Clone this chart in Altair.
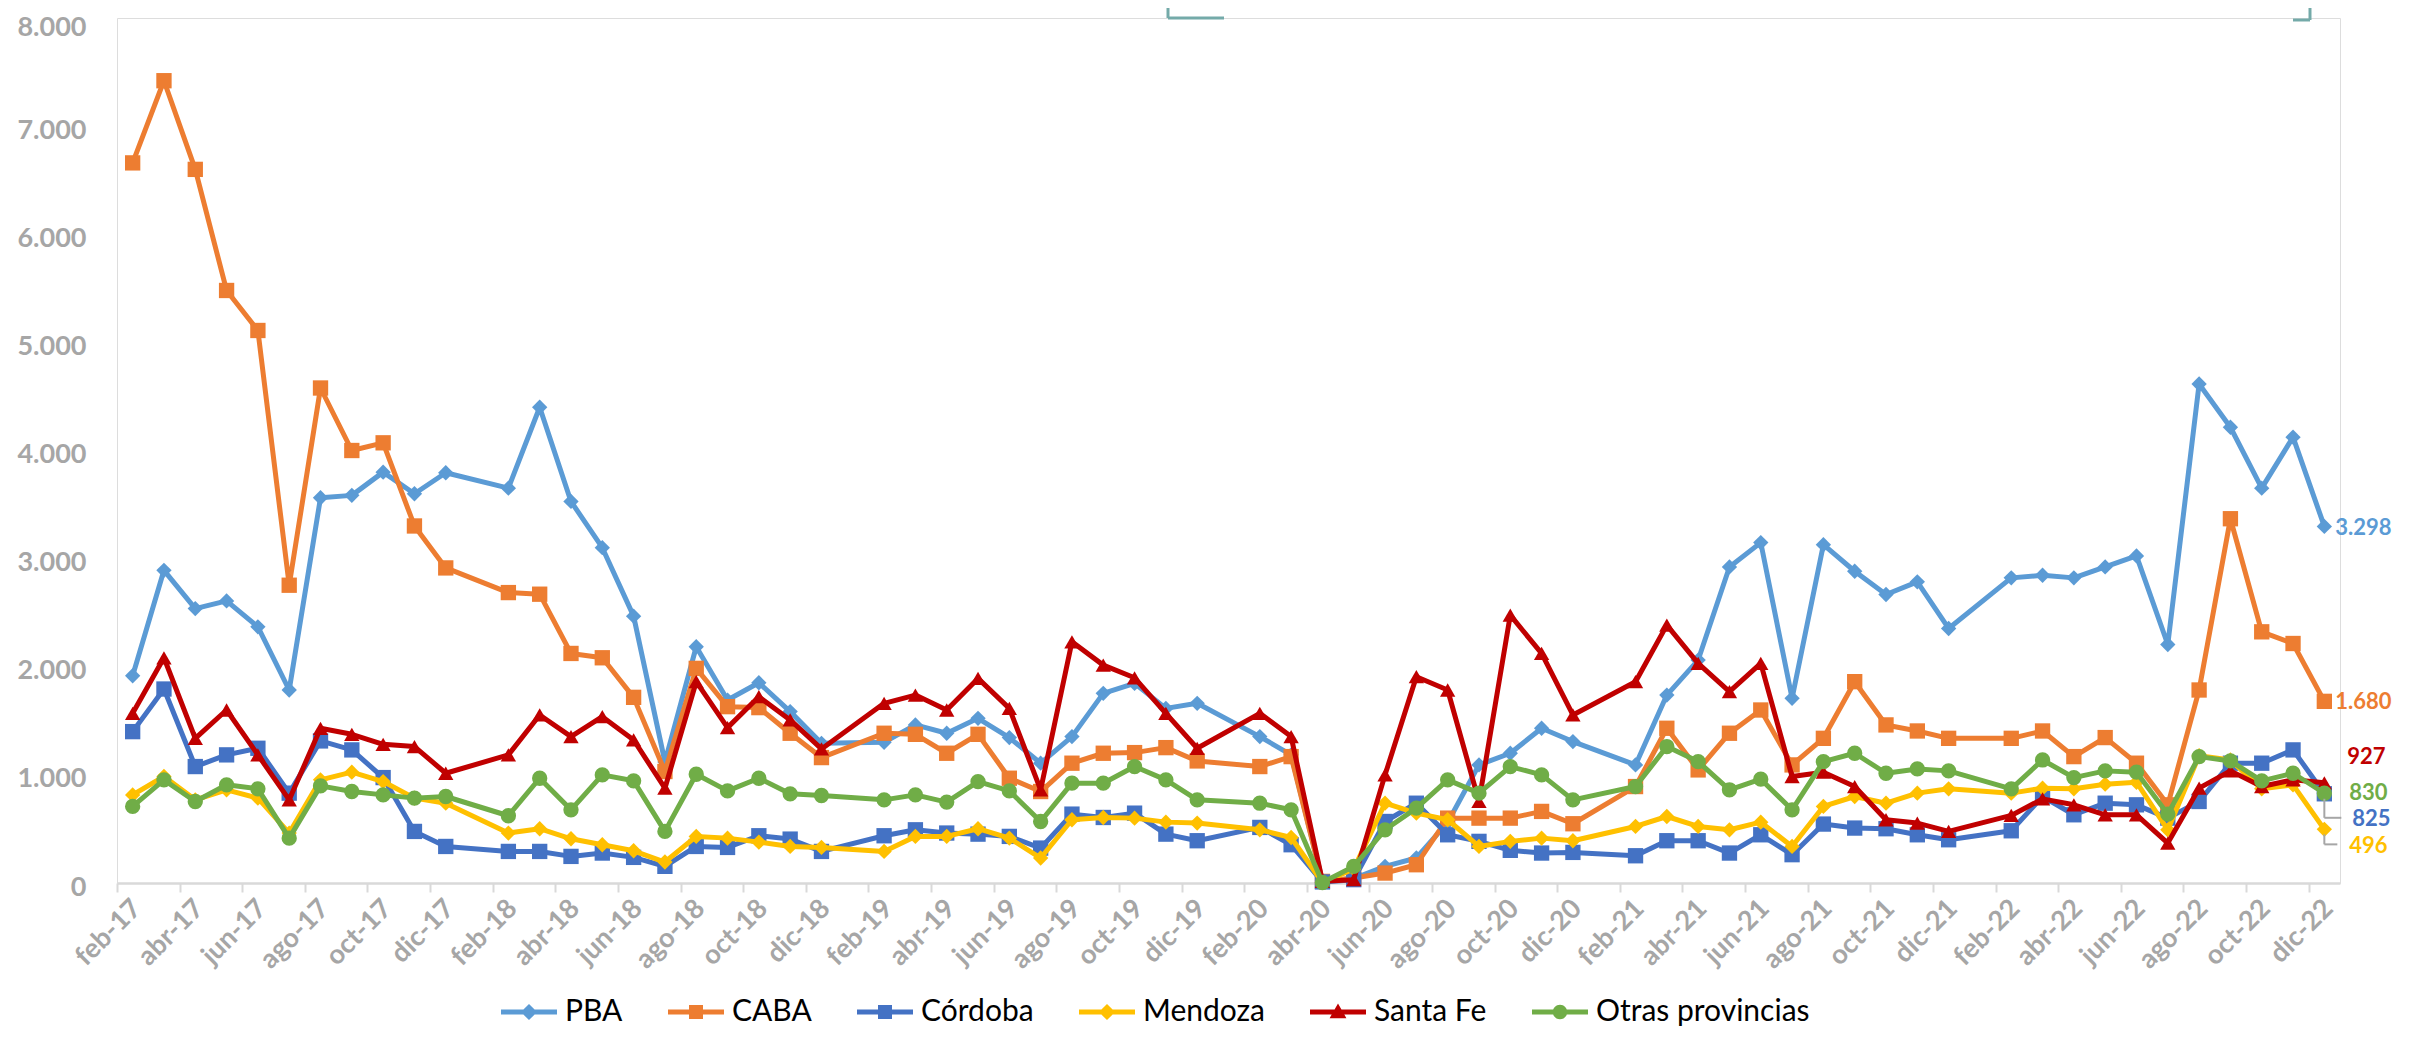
import altair as alt
import pandas as pd

# ---------------- data ----------------
series = ["PBA", "CABA", "Córdoba", "Mendoza", "Santa Fe", "Otras provincias"]
colors = ["#5B9BD5", "#ED7D31", "#4472C4", "#FFC000", "#C00000", "#70AD47"]
markers = ["diamond", "square", "square", "diamond", "triangle-up", "circle"]

meses_all = ["ene", "feb", "mar", "abr", "may", "jun", "jul", "ago", "sep", "oct", "nov", "dic"]
years = [17, 18, 19, 20, 21, 22]
# períodos con dato (enero no figura en la serie)
periods = [f"{m}-{y}" for y in years for m in meses_all[1:]]

tick_labels = [
    "feb-17", "abr-17", "jun-17", "ago-17", "oct-17", "dic-17",
    "feb-18", "abr-18", "jun-18", "ago-18", "oct-18", "dic-18",
    "feb-19", "abr-19", "jun-19", "ago-19", "oct-19", "dic-19",
    "feb-20", "abr-20", "jun-20", "ago-20", "oct-20", "dic-20",
    "feb-21", "abr-21", "jun-21", "ago-21", "oct-21", "dic-21",
    "feb-22", "abr-22", "jun-22", "ago-22", "oct-22", "dic-22",
]
y_ticks = [0, 1000, 2000, 3000, 4000, 5000, 6000, 7000, 8000]

pba = [1917, 2892, 2538, 2609, 2369, 1785, 3563, 3585, 3800, 3600, 3794,
       3652, 4400, 3529, 3101, 2468, 1120, 2185, 1692, 1852, 1585, 1292,
       1302, 1462, 1385, 1523, 1345, 1108, 1354, 1754, 1846, 1615, 1662,
       1354, 1185, 20, 40, 154, 231, 560, 1092, 1200, 1431, 1308,
       1092, 1738, 2062, 2923, 3148, 1708, 3129, 2883, 2668, 2785, 2354,
       2822, 2846, 2822, 2923, 3025, 2206, 4615, 4215, 3652, 4123, 3298]
caba = [6660, 7420, 6600, 5480, 5110, 2754, 4578, 4000, 4071, 3302, 2914,
        2686, 2671, 2123, 2083, 1717, 1031, 1985, 1631, 1622, 1385, 1160,
        1385, 1375, 1200, 1375, 969, 846, 1108, 1200, 1206, 1252, 1129,
        1077, 1169, 15, 46, 92, 169, 600, 600, 600, 662, 548,
        892, 1431, 1046, 1385, 1600, 1092, 1338, 1862, 1462, 1406, 1338,
        1338, 1406, 1169, 1345, 1108, 723, 1785, 3369, 2323, 2215, 1680]
cordoba = [1400, 1794, 1077, 1185, 1246, 831, 1314, 1231, 975, 477, 338,
           292, 292, 246, 277, 237, 154, 338, 329, 437, 406, 292,
           437, 492, 462, 452, 431, 323, 637, 606, 646, 452, 391,
           514, 354, 10, 31, 569, 738, 446, 385, 302, 277, 283,
           252, 391, 391, 277, 446, 262, 545, 508, 502, 446, 400,
           483, 800, 631, 738, 723, 600, 754, 1108, 1108, 1231, 825]
mendoza = [815, 985, 769, 862, 785, 462, 954, 1025, 938, 785, 738,
           462, 502, 409, 354, 298, 194, 431, 415, 378, 338, 329,
           292, 431, 431, 502, 415, 231, 585, 606, 600, 563, 554,
           492, 421, 5, 130, 738, 646, 585, 338, 385, 415, 391,
           523, 615, 523, 492, 563, 338, 708, 800, 738, 831, 871,
           831, 877, 871, 914, 932, 492, 1178, 1138, 871, 908, 496]
santa_fe = [1569, 2083, 1338, 1600, 1185, 769, 1431, 1375, 1283, 1262, 1015,
            1185, 1554, 1354, 1538, 1323, 877, 1862, 1437, 1723, 1508, 1240,
            1662, 1738, 1600, 1892, 1615, 862, 2231, 2015, 1898, 1569, 1246,
            1569, 1354, 15, 31, 1000, 1908, 1785, 754, 2477, 2123, 1554,
            1862, 2385, 2031, 1769, 2031, 985, 1025, 892, 585, 554, 477,
            625, 778, 723, 631, 631, 369, 877, 1037, 892, 954, 927]
otras = [708, 954, 754, 908, 871, 415, 898, 846, 815, 785, 800,
         622, 969, 677, 1000, 945, 477, 1006, 852, 969, 825, 809,
         769, 815, 748, 938, 852, 569, 923, 923, 1077, 954, 769,
         738, 677, 5, 154, 492, 692, 954, 831, 1077, 1000, 769,
         892, 1262, 1123, 862, 960, 677, 1123, 1200, 1015, 1055, 1037,
         871, 1138, 975, 1037, 1025, 637, 1169, 1129, 945, 1015, 830]
values = [pba, caba, cordoba, mendoza, santa_fe, otras]


def month_index(p):
    m, y = p.split("-")
    return (int(y) - 17) * 12 + meses_all.index(m) - 1


rows = []
for s, vals in zip(series, values):
    for p, v in zip(periods, vals):
        rows.append({"series": s, "period": p, "x": month_index(p) + 0.5, "value": v})
df = pd.DataFrame(rows)

ends = pd.DataFrame({
    "series": series,
    "x": [month_index(periods[-1]) + 0.5] * len(series),
    "value": [v[-1] for v in values],
    "label": [f"{v[-1]:,}".replace(",", ".") for v in values],
})

# ---------------- layout ----------------
W, H = 2223, 865
N_MONTHS = 71
HALF = W / N_MONTHS / 2
GRAY = "#A6A6A6"

label_arr = "[" + ",".join(f"'{t}'" for t in tick_labels) + "]"

x_axis = alt.Axis(
    values=list(range(0, 71, 2)), labelExpr=f"{label_arr}[datum.value / 2]",
    labelAngle=-45, labelAlign="right", labelBaseline="middle",
    labelOffset=HALF + 4, labelPadding=12,
    labelOverlap=False, labelFlush=False, labelBound=False,
    labelFont="Lato", labelFontSize=27, labelFontWeight="bold", labelColor=GRAY,
    tickSize=9, tickColor="#D9D9D9", tickWidth=2,
    domainColor="#D9D9D9", domainWidth=2.5, grid=False, title=None,
)
y_axis = alt.Axis(
    values=y_ticks, labelExpr="replace(format(datum.value, ','), ',', '.')",
    ticks=False, domain=False, grid=False, labelPadding=31,
    labelOffset={"condition": {"test": "datum.value === 8000", "value": 9}, "value": 4},
    labelFont="Lato", labelFontSize=27, labelFontWeight="bold", labelColor=GRAY,
    title=None,
)
X = alt.X("x:Q", scale=alt.Scale(domain=[0, N_MONTHS], nice=False, zero=False), axis=x_axis)
Y = alt.Y("value:Q", scale=alt.Scale(domain=[0, 8000], nice=False), axis=y_axis)

layers = []
for s, c, m in zip(series, colors, markers):
    sel = alt.datum.series == s
    layers.append(
        alt.Chart().transform_filter(sel)
        .mark_line(color=c, strokeWidth=5, strokeJoin="round", strokeCap="round")
        .encode(x=X, y=Y)
    )
    layers.append(
        alt.Chart().transform_filter(sel)
        .mark_point(shape=m, filled=True, size=235, color=c, opacity=1)
        .encode(x=X, y=Y)
    )

# legend: line + marker symbols
bar = "M-1,-0.09H1V0.09H-1Z"
legend_paths = [
    bar + "M0,-0.29L0.29,0L0,0.29L-0.29,0Z",
    bar + "M-0.25,-0.25H0.25V0.25H-0.25Z",
    bar + "M-0.25,-0.25H0.25V0.25H-0.25Z",
    bar + "M0,-0.29L0.29,0L0,0.29L-0.29,0Z",
    bar + "M0,-0.3L0.3,0.22H-0.3Z",
    bar + "M0.26,0A0.26,0.26,0,1,1,-0.26,0A0.26,0.26,0,1,1,0.26,0Z",
]
leg = alt.Legend(
    title=None, orient="none", legendX=384, legendY=966, direction="horizontal",
    columns=6, symbolSize=3136, symbolStrokeWidth=0, symbolOpacity=1,
    labelFont="Lato", labelFontSize=30, labelColor="#000000", labelOffset=8,
    columnPadding=45, padding=0, labelLimit=0,
)
layers.append(
    alt.Chart().mark_point(filled=True, opacity=0).encode(
        color=alt.Color("series:N", scale=alt.Scale(domain=series, range=colors), legend=leg),
        shape=alt.Shape("series:N", scale=alt.Scale(domain=series, range=legend_paths), legend=leg),
    )
)

# end labels
offsets = {
    "PBA": (11, 2), "CABA": (11, 1), "Córdoba": (28, 25),
    "Mendoza": (25, 17), "Santa Fe": (23, -26), "Otras provincias": (25, 0),
}
for s, c in zip(series, colors):
    dx, dy = offsets[s]
    layers.append(
        alt.Chart(ends).transform_filter(alt.datum.series == s)
        .mark_text(align="left", baseline="middle", dx=dx, dy=dy, font="Lato",
                   fontSize=22, fontWeight="bold", color=c)
        .encode(x=X, y=Y, text="label:N")
    )

# leader lines for Córdoba and Mendoza labels
for s, y_end, x_len in [("Córdoba", 24, 17), ("Mendoza", 15, 13)]:
    sub = alt.Chart(ends).transform_filter(alt.datum.series == s)
    layers.append(
        sub.mark_rule(color=GRAY, strokeWidth=2, yOffset=5, y2Offset=y_end)
        .encode(x=X, y=Y, y2=alt.Y2("value:Q"))
    )
    layers.append(
        sub.mark_rule(color=GRAY, strokeWidth=2, x2Offset=x_len, yOffset=y_end, y2Offset=y_end)
        .encode(x=X, x2=alt.X2("x:Q"), y=Y)
    )

# cut-off box corners at the top
TEAL = "#74AAA9"
deco = [
    dict(x=1051, x2=1051, y=-13, y2=0),
    dict(x=1051, x2=1107, y=0, y2=0),
    dict(x=2193, x2=2193, y=-13, y2=2),
    dict(x=2176, x2=2193, y=2, y2=2),
]
for d in deco:
    layers.append(
        alt.Chart(pd.DataFrame({"a": [0]})).mark_rule(color=TEAL, strokeWidth=3).encode(
            x=alt.value(d["x"]), x2=alt.value(d["x2"]), y=alt.value(d["y"]), y2=alt.value(d["y2"])
        )
    )

chart = alt.layer(*layers, data=df).properties(
    width=W, height=H,
    autosize=alt.AutoSizeParams(type="none"),
    padding={"left": 109, "top": 10, "right": 60, "bottom": 145},
).configure_view(stroke=None).configure(background="white")

chart.save("out.html", embed_options={"renderer": "svg", "actions": False})
